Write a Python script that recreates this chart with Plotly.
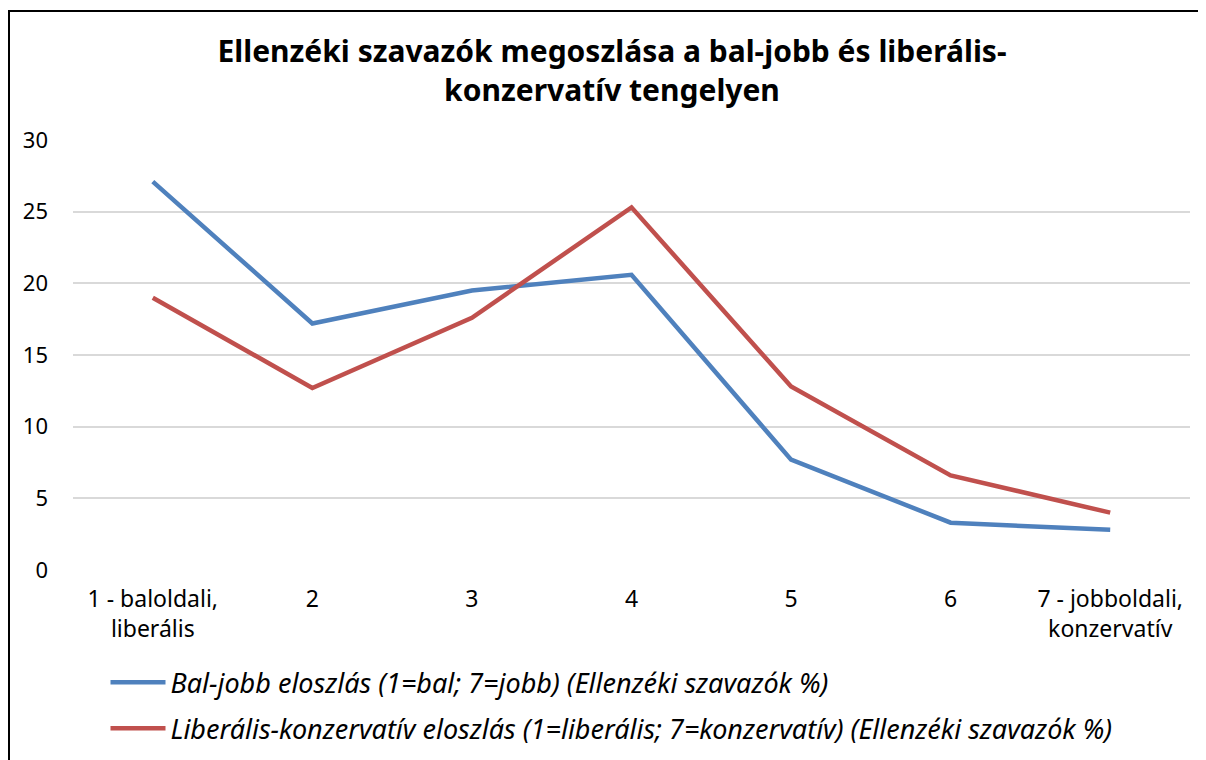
import plotly.graph_objects as go

categories = ["1 - baloldali,<br>liberális", "2", "3", "4", "5", "6", "7 - jobboldali,<br>konzervatív"]
bal_jobb = [27.1, 17.2, 19.5, 20.6, 7.7, 3.3, 2.8]
lib_kons = [19.0, 12.7, 17.6, 25.3, 12.8, 6.6, 4.0]
series_names = [
    "Bal-jobb eloszlás (1=bal; 7=jobb) (Ellenzéki szavazók %)",
    "Liberális-konzervatív eloszlás (1=liberális; 7=konzervatív) (Ellenzéki szavazók %)",
]
y_ticks = [0, 5, 10, 15, 20, 25, 30]
title_text = "Ellenzéki szavazók megoszlása a bal-jobb és liberális-<br>konzervatív tengelyen"

FONT = "Noto Sans"
W, H = 1198, 752
L, R, T, B = 65, 16, 132, 190
PW = W - L - R
PH = H - T - B

fig = go.Figure()
fig.add_trace(go.Scatter(x=categories, y=bal_jobb, mode="lines", name=series_names[0],
                         legendgroup="a", line=dict(color="#4F81BD", width=4.5)))
fig.add_trace(go.Scatter(x=categories, y=lib_kons, mode="lines", name=series_names[1],
                         legendgroup="b", line=dict(color="#C0504D", width=4.5)))

fig.update_layout(
    width=W, height=H,
    margin=dict(l=L, r=R, t=T, b=B, autoexpand=False),
    paper_bgcolor="white", plot_bgcolor="white",
    font=dict(family=FONT, color="#000000", size=23),
    title=dict(text="<b>" + title_text + "</b>", x=(612 - 8) / W, xanchor="center",
               y=1 - 54 / H, yanchor="top",
               font=dict(family=FONT, size=30, color="#000000")),
    showlegend=True,
    legend=dict(orientation="v", x=(97.5 - L) / PW, xanchor="left", y=-0.205, yanchor="top",
                font=dict(family=FONT, size=27, color="#000000", style="italic"),
                itemwidth=55, tracegroupgap=8, bgcolor="rgba(0,0,0,0)"),
    xaxis=dict(type="category", showgrid=False, zeroline=False, showline=False,
               ticks="", tickfont=dict(size=23), ticklabelstandoff=13,
               range=[-0.5, 6.5], automargin=False),
    yaxis=dict(range=[0, 30], tickvals=y_ticks, showgrid=True, gridcolor="#D9D9D9", gridwidth=1.5,
               zeroline=False, showline=False, ticks="", tickfont=dict(size=22),
               ticklabelstandoff=24, automargin=False),
    shapes=[dict(type="rect", xref="paper", yref="paper",
                 x0=(1 - L) / PW, x1=1.2, y0=-0.6, y1=1 + (T - 3) / PH,
                 line=dict(color="#000000", width=2), fillcolor="rgba(0,0,0,0)")],
)

fig.write_html("out.html")
